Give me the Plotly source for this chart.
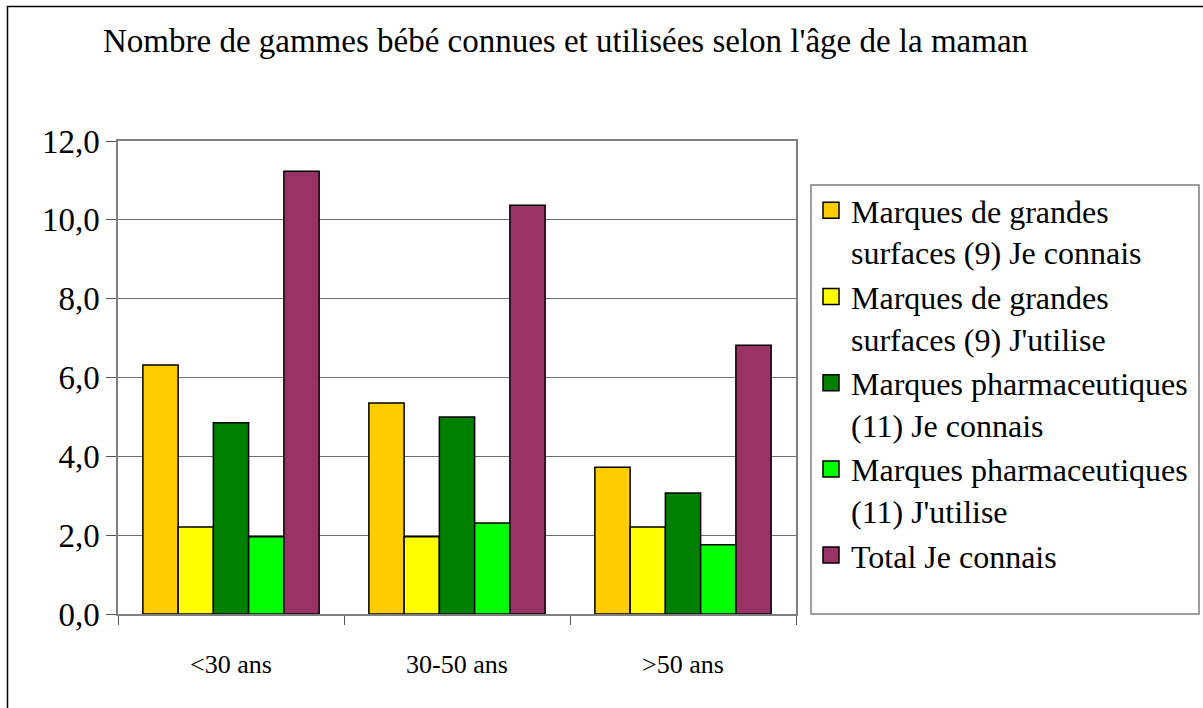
import plotly.graph_objects as go

categories = ["<30 ans", "30-50 ans", ">50 ans"]
series_names = [
    "Marques de grandes<br>surfaces (9) Je connais",
    "Marques de grandes<br>surfaces (9) J'utilise",
    "Marques pharmaceutiques<br>(11) Je connais",
    "Marques pharmaceutiques<br>(11) J'utilise",
    "Total Je connais",
]
gs_connais = [6.32, 5.35, 3.72]
gs_utilise = [2.21, 1.96, 2.21]
ph_connais = [4.85, 5.00, 3.07]
ph_utilise = [1.96, 2.31, 1.76]
total_connais = [11.23, 10.37, 6.82]
colors = ["#FFCC00", "#FFFF00", "#008000", "#00FF00", "#993366"]
y_ticks = [0, 2, 4, 6, 8, 10, 12]

values = [gs_connais, gs_utilise, ph_connais, ph_utilise, total_connais]

FONT = "Liberation Serif"
fig = go.Figure()
for name, vals, col in zip(series_names, values, colors):
    fig.add_trace(go.Bar(
        x=categories, y=vals, name=name, showlegend=False,
        marker=dict(color=col, line=dict(color="black", width=1.5)),
    ))
# legend entries with larger square swatches
for name, col in zip(series_names, colors):
    fig.add_trace(go.Scatter(
        x=[None], y=[None], name=name, mode="markers",
        marker=dict(symbol="square", size=19, color=col,
                    line=dict(color="black", width=1.5)),
    ))

W, H = 1203, 708
L, R, T, B = 118, 796, 141, 614
pw, ph = R - L, B - T

def px(x):  # screen x -> paper
    return (x - L) / pw

def py(y):  # screen y -> paper
    return (B - y) / ph

fig.update_layout(
    width=W, height=H,
    margin=dict(l=L, r=W - R, t=T, b=H - B, autoexpand=False),
    paper_bgcolor="white", plot_bgcolor="white",
    separators=", ",
    barmode="group", bargap=0.22, bargroupgap=0,
    font=dict(family=FONT, color="black"),
    title=dict(
        text="Nombre de gammes bébé connues et utilisées selon l'âge de la maman",
        font=dict(family=FONT, size=33, color="black"),
        xref="container", yref="container",
        x=103 / W, xanchor="left", y=1 - 40 / H, yanchor="middle",
    ),
    xaxis=dict(
        showline=True, linecolor="#7f7f7f", linewidth=1.5, mirror=True,
        ticks="outside", tickson="boundaries", ticklen=9, tickcolor="#555555",
        tickfont=dict(family=FONT, size=26, color="black"),
        ticklabelstandoff=26,
        showgrid=False,
    ),
    yaxis=dict(
        range=[0, 12], tickvals=y_ticks, tickformat=".1f",
        showline=True, linecolor="#7f7f7f", linewidth=1.5, mirror=True,
        ticks="outside", ticklen=10, tickcolor="#555555",
        tickfont=dict(family=FONT, size=33, color="black"),
        showgrid=True, gridcolor="#6f6f6f", gridwidth=1,
        zeroline=False,
    ),
    legend=dict(
        x=px(811), y=py(183), xanchor="left", yanchor="top",
        borderwidth=0, bgcolor="rgba(0,0,0,0)",
        font=dict(family=FONT, size=32, color="black"),
        valign="top", itemsizing="trace",
    ),
    showlegend=True,
    shapes=[
        dict(type="rect", xref="paper", yref="paper",
             x0=px(7.5), x1=px(1240), y0=py(750), y1=py(6.5),
             line=dict(color="black", width=1.5), layer="below"),
        dict(type="rect", xref="paper", yref="paper",
             x0=px(811), x1=px(1199), y0=py(614), y1=py(185),
             line=dict(color="#7f7f7f", width=1.5), layer="below"),
    ],
)

fig.write_html(
    "out.html",
    config={"displayModeBar": False},
    post_script="document.body.style.margin='0px';document.body.style.overflow='hidden';",
)
